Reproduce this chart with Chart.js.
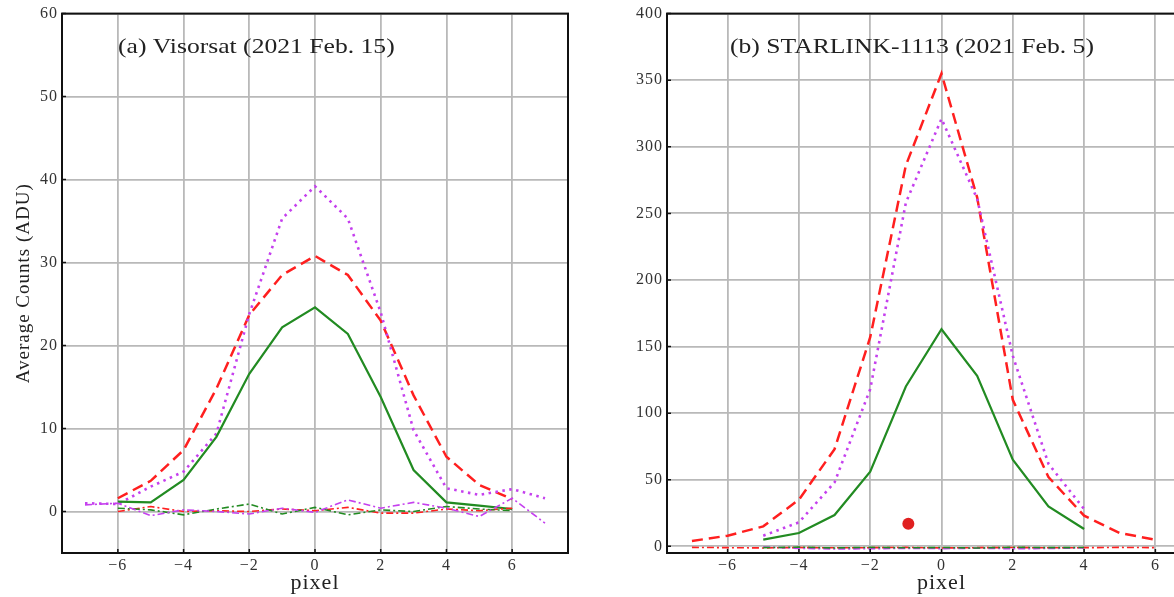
<!DOCTYPE html>
<html>
<head>
<meta charset="utf-8">
<script src="https://cdn.jsdelivr.net/npm/chart.js@4.4.1/dist/chart.umd.min.js"></script>
<style>
    html, body { margin: 0; padding: 0; background: #fff; overflow: hidden; }
    body { width: 1174px; height: 597px; position: relative; }
    .panel { position: absolute; top: 0; height: 597px; }
</style>
</head>
<body>
<div class="panel" style="left: 0; width: 580px;"><canvas id="chartA"></canvas></div>
<div class="panel" style="left: 605px; width: 620px;"><canvas id="chartB"></canvas></div>

<script>
// pixel offsets (x values)
const pixFull = [-7, -6, -5, -4, -3, -2, -1, 0, 1, 2, 3, 4, 5, 6, 7];
const pixSix = [-6, -5, -4, -3, -2, -1, 0, 1, 2, 3, 4, 5, 6];
const pixToSix = [-7, -6, -5, -4, -3, -2, -1, 0, 1, 2, 3, 4, 5, 6];
const pixShort = [-5, -4, -3, -2, -1, 0, 1, 2, 3, 4];

// (a) Visorsat
const titleA = '(a) Visorsat (2021 Feb. 15)';
const greenA = [1.2, 1.1, 3.8, 9.0, 16.6, 22.2, 24.6, 21.4, 13.8, 5.0, 1.1, 0.7, 0.3];
const redA = [1.6, 3.7, 7.4, 14.8, 23.7, 28.5, 30.8, 28.5, 23.0, 14.0, 6.6, 3.2, 1.5];
const violetA = [1.0, 0.9, 3.0, 4.8, 9.4, 23.8, 35.3, 39.2, 35.3, 24.0, 9.8, 2.8, 2.0, 2.7, 1.6];
const violetNoiseA = [0.8, 1.0, -0.5, 0.2, 0.0, -0.3, 0.4, -0.1, 1.4, 0.4, 1.1, 0.4, -0.6, 1.6, -1.4];
const greenNoiseA = [0.4, 0.2, -0.4, 0.3, 0.9, -0.3, 0.5, -0.4, 0.2, 0.0, 0.6, 0.3, 0.1];
const redNoiseA = [0.0, 0.6, 0.0, 0.1, 0.0, 0.3, 0.1, 0.5, -0.2, -0.2, 0.3, 0.1, 0.4];
const yTicksA = [0, 10, 20, 30, 40, 50, 60];

// (b) STARLINK-1113
const titleB = '(b) STARLINK-1113 (2021 Feb. 5)';
const redB = [4, 8, 15, 35, 73, 157, 286, 355, 262, 110, 52, 23, 10, 5];
const violetB = [8, 18, 48, 118, 258, 321, 261, 143, 62, 28];
const greenB = [5, 10, 23.5, 56, 120, 163, 128, 65, 30, 13];
const redNoiseB = [-0.8, -1.0, -1.2, -0.9, -1.1, -1.0, -0.8, -1.2, -1.0, -0.9, -1.1, -1.0, -0.8, -1.0];
const violetNoiseB = [-0.5, -1.5, -2.0, -1.8, -1.5, -1.7, -1.4, -1.8, -1.6, -1.2];
const greenNoiseB = [-1.0, -0.6, -1.2, -0.8, -1.1, -0.9, -1.3, -0.7, -1.0, -0.9];
const redDotB = [{ x: -0.93, y: 17 }];
const yTicksB = [0, 50, 100, 150, 200, 250, 300, 350, 400];

const xTicks = [-6, -4, -2, 0, 2, 4, 6];

const RED = '#ff1f1f';
const GREEN = '#228b22';
const VIOLET = '#c540ee';
const SERIF = "'Liberation Serif', 'DejaVu Serif', serif";

const zip = (xs, ys) => xs.map((x, i) => ({ x, y: ys[i] }));
const fmt = v => v < 0 ? '\u2212' + Math.abs(v) : String(v);

const line = (data, color, dash, width) => ({
    type: 'line', data, borderColor: color, borderDash: dash, borderWidth: width,
    pointRadius: 0, fill: false, tension: 0, borderCapStyle: 'butt',
});

// the original figure is a bit wider than tall, so text is spaced out a little
const spacingPlugin = {
    id: 'spacing',
    beforeDraw(chart) { chart.ctx.letterSpacing = '1px'; }
};

// box around the plot area, inward tick marks, and the panel label
const framePlugin = {
    id: 'frame',
    afterDatasetsDraw(chart, args, opts) {
        const { ctx, chartArea: a, scales } = chart;
        ctx.save();
        ctx.strokeStyle = '#111';
        ctx.lineWidth = 1.5;
        ctx.beginPath();
        xTicks.forEach(v => {
            const px = scales.x.getPixelForValue(v);
            ctx.moveTo(px, a.bottom); ctx.lineTo(px, a.bottom - 4);
        });
        scales.y.ticks.forEach(t => {
            const py = scales.y.getPixelForValue(t.value);
            ctx.moveTo(a.left, py); ctx.lineTo(a.left + 4, py);
        });
        ctx.stroke();
        ctx.lineWidth = 2;
        ctx.strokeRect(a.left, a.top, a.right - a.left, a.bottom - a.top);
        ctx.letterSpacing = '0px';
        ctx.fillStyle = '#222';
        ctx.font = '21px ' + SERIF;
        ctx.textBaseline = 'middle';
        ctx.translate(a.left + opts.dx, 47);
        ctx.scale(1.22, 1);
        ctx.fillText(opts.text, 0, 0);
        ctx.restore();
    }
};

function makeChart(id, datasets, yMin, yMax, yTicks, yTitle, text, dx, padRight) {
    return new Chart(document.getElementById(id), {
        data: { datasets },
        options: {
            responsive: true, maintainAspectRatio: false, animation: false,
            layout: { padding: { top: 13, right: padRight, left: 0, bottom: 0 } },
            plugins: { legend: { display: false }, tooltip: { enabled: false }, frame: { text, dx } },
            scales: {
                x: {
                    type: 'linear', min: -7.7, max: 7.7,
                    afterBuildTicks: s => { s.ticks = xTicks.map(v => ({ value: v })); },
                    afterFit: s => { s.height = 44; },
                    grid: { color: '#b9b9b9', lineWidth: 1.8, drawTicks: false },
                    border: { display: false },
                    ticks: { callback: fmt, color: '#333', padding: 3, font: { family: SERIF, size: 16 }, maxRotation: 0 },
                    title: { display: true, text: 'pixel', color: '#222', padding: { top: 0, bottom: 1 }, font: { family: SERIF, size: 22 } },
                },
                y: {
                    type: 'linear', min: yMin, max: yMax,
                    afterBuildTicks: s => { s.ticks = yTicks.map(v => ({ value: v })); },
                    afterFit: s => { s.width = 62; },
                    grid: { color: '#b9b9b9', lineWidth: 1.8, drawTicks: false },
                    border: { display: false },
                    ticks: { callback: fmt, color: '#333', padding: 4, font: { family: SERIF, size: 16 } },
                    title: { display: !!yTitle, text: yTitle, color: '#222', padding: { top: 13, bottom: 0 }, font: { family: SERIF, size: 19 } },
                },
            },
        },
        plugins: [spacingPlugin, framePlugin],
    });
}

const dashDot = [7, 3, 2, 3];
const dotted = [2.5, 4.5];
const dashed = [11, 6];

makeChart('chartA', [
    line(zip(pixFull, violetNoiseA), VIOLET, dashDot, 1.6),
    line(zip(pixSix, greenNoiseA), GREEN, dashDot, 1.6),
    line(zip(pixSix, redNoiseA), RED, dashDot, 1.6),
    line(zip(pixSix, greenA), GREEN, [], 2.2),
    line(zip(pixFull, violetA), VIOLET, dotted, 2.6),
    line(zip(pixSix, redA), RED, dashed, 2.5),
], -5, 60, yTicksA, 'Average Counts (ADU)', titleA, 56, 12);

makeChart('chartB', [
    line(zip(pixShort, greenNoiseB), GREEN, dashDot, 1.6),
    line(zip(pixShort, violetNoiseB), VIOLET, dashDot, 1.6),
    line(zip(pixToSix, redNoiseB), RED, dashDot, 1.6),
    line(zip(pixShort, greenB), GREEN, [], 2.2),
    line(zip(pixShort, violetB), VIOLET, dotted, 2.6),
    line(zip(pixToSix, redB), RED, dashed, 2.5),
    { type: 'scatter', data: redDotB, backgroundColor: '#e02020', borderWidth: 0, pointRadius: 6 },
], -5, 400, yTicksB, '', titleB, 63, 9);
</script>
</body>
</html>
